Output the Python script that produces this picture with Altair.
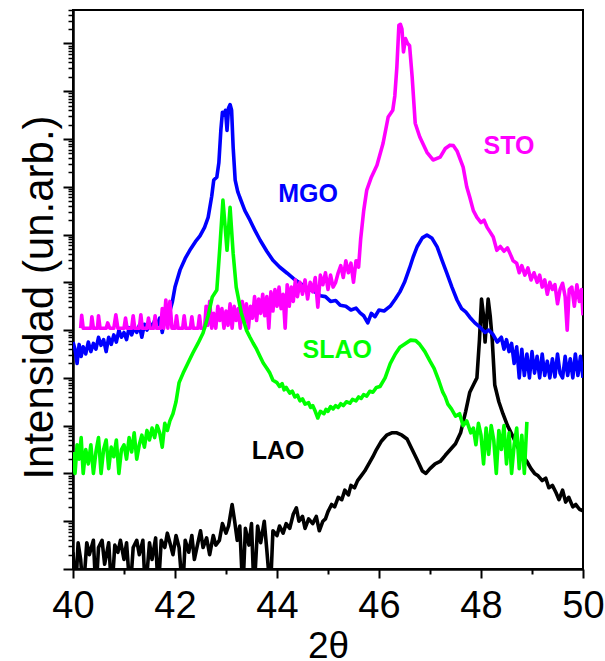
import altair as alt
import pandas as pd

# ---- data: 2-theta (deg) and log10 of intensity (arb. units) ----
lao_x = [40.00, 40.05, 40.10, 40.15, 40.20, 40.27, 40.32, 40.40, 40.45, 40.50, 40.57, 40.62, 40.70, 40.76,
         40.82, 40.88, 40.93, 41.00, 41.05, 41.12, 41.18, 41.25, 41.30, 41.37, 41.42, 41.50, 41.55, 41.62,
         41.67, 41.73, 41.80, 41.85, 41.90, 41.96, 42.02, 42.08, 42.15, 42.20, 42.27, 42.33, 42.38, 42.45,
         42.50, 42.55, 42.62, 42.68, 42.75, 42.80, 42.87, 42.93, 43.00, 43.05, 43.12, 43.17, 43.22, 43.27,
         43.33, 43.38, 43.45, 43.50, 43.55, 43.62, 43.68, 43.75, 43.80, 43.87, 43.92, 44.00, 44.05, 44.12,
         44.18, 44.25, 44.32, 44.38, 44.43, 44.50, 44.55, 44.62, 44.70, 44.77, 44.83, 44.90, 44.95, 45.00,
         45.07, 45.13, 45.20, 45.27, 45.33, 45.40, 45.45, 45.52, 45.58, 45.65, 45.72, 45.80, 45.88, 45.95,
         46.05, 46.15, 46.25, 46.35, 46.45, 46.55, 46.65, 46.75, 46.85, 46.92, 47.00, 47.10, 47.20, 47.30,
         47.40, 47.50, 47.60, 47.70, 47.78, 47.85, 47.92, 47.97, 48.01, 48.05, 48.08, 48.11, 48.14, 48.18,
         48.22, 48.27, 48.35, 48.43, 48.52, 48.63, 48.72, 48.80, 48.90, 48.98, 49.05, 49.12, 49.20, 49.27,
         49.33, 49.40, 49.47, 49.53, 49.60, 49.66, 49.72, 49.80, 49.86, 49.93, 50.00]
lao_log = [0.35, -0.5, 0.55, 0.2, -0.5, 0.55, 0.3, 0.6, -0.5, 0.45, 0.6, 0.1, 0.55, -0.5,
           0.5, 0.35, 0.6, 0.2, 0.55, -0.5, 0.45, 0.6, 0.3, 0.6, -0.5, 0.55, 0.2, 0.65,
           -0.5, 0.6, 0.45, 0.75, 0.55, 0.3, 0.7, 0.45, -0.5, 0.6, 0.35, 0.7, 0.2, 0.55,
           0.8, 0.45, 0.65, 0.3, 0.7, 0.5, 0.6, 0.95, 0.75, 0.9, 1.35, 1.0, 0.6, 0.9,
           -0.5, 0.85, 0.5, 0.95, -0.5, 0.9, 0.55, 1.0, 0.4, -0.5, 0.8, 0.7, 0.9, 0.75,
           0.95, 0.85, 1.15, 1.28, 1.0, 1.1, 0.85, 1.05, 0.95, 1.1, 0.8, 1.0, 1.05, 1.2,
           1.35, 1.3, 1.5, 1.45, 1.65, 1.55, 1.75, 1.7, 1.85, 1.95, 2.05, 2.2, 2.35, 2.5,
           2.68, 2.8, 2.85, 2.85, 2.8, 2.72, 2.5, 2.28, 2.05, 2.0, 2.1, 2.2, 2.25, 2.38,
           2.5, 2.62, 2.85, 3.3, 3.7, 3.85, 4.0, 4.8, 5.65, 5.3, 4.75, 5.2, 5.65, 5.3,
           4.8, 3.85, 3.5, 3.25, 3.0, 2.76, 2.55, 2.4, 2.25, 2.1, 2.0, 1.95, 1.85, 1.9,
           1.7, 1.75, 1.6, 1.45, 1.65, 1.4, 1.5, 1.3, 1.35, 1.25, 1.22]

slao_x = [40.00, 40.04, 40.08, 40.12, 40.16, 40.20, 40.25, 40.30, 40.35, 40.40, 40.45, 40.50, 40.55, 40.60,
          40.65, 40.70, 40.75, 40.80, 40.85, 40.90, 40.95, 41.00, 41.05, 41.10, 41.15, 41.20, 41.25, 41.30,
          41.35, 41.40, 41.45, 41.50, 41.55, 41.60, 41.65, 41.70, 41.75, 41.80, 41.85, 41.90, 41.96, 42.02,
          42.08, 42.16, 42.25, 42.35, 42.45, 42.55, 42.65, 42.73, 42.82, 42.88, 42.94, 42.98, 43.02, 43.08,
          43.14, 43.20, 43.30, 43.40, 43.47, 43.53, 43.60, 43.67, 43.73, 43.80, 43.86, 43.92, 44.00, 44.05,
          44.10, 44.14, 44.18, 44.25, 44.30, 44.35, 44.40, 44.45, 44.50, 44.55, 44.62, 44.66, 44.70, 44.75,
          44.80, 44.85, 44.92, 44.96, 45.00, 45.05, 45.10, 45.15, 45.20, 45.25, 45.30, 45.36, 45.43, 45.48,
          45.55, 45.60, 45.65, 45.70, 45.76, 45.82, 45.88, 45.95, 46.02, 46.12, 46.22, 46.32, 46.41, 46.52,
          46.62, 46.72, 46.80, 46.90, 47.00, 47.08, 47.17, 47.25, 47.30, 47.35, 47.42, 47.50, 47.58, 47.65,
          47.72, 47.80, 47.85, 47.90, 47.95, 48.00, 48.05, 48.10, 48.15, 48.20, 48.25, 48.30, 48.35, 48.40,
          48.45, 48.50, 48.55, 48.60, 48.65, 48.70, 48.75, 48.80, 48.85, 48.90]
slao_log = [2.45, 2.0, 2.6, 2.3, 2.75, 2.0, 2.5, 2.2, 2.6, 2.0, 2.45, 2.75, 2.0, 2.5,
            2.7, 2.1, 2.55, 2.35, 2.7, 2.0, 2.5, 2.6, 2.3, 2.75, 2.45, 2.85, 2.3, 2.6,
            2.8, 2.55, 2.9, 2.7, 2.95, 2.75, 3.0, 2.85, 2.55, 3.05, 2.9, 3.1, 3.25, 3.5,
            3.9, 4.1, 4.3, 4.52, 4.72, 4.94, 5.3, 5.69, 5.84, 6.74, 7.72, 7.2, 6.67, 7.57,
            6.61, 5.9, 5.36, 5.0, 4.85, 4.73, 4.6, 4.44, 4.31, 4.2, 4.1, 3.95, 3.9, 3.82,
            3.88, 3.75, 3.8, 3.68, 3.72, 3.6, 3.64, 3.52, 3.56, 3.45, 3.48, 3.38, 3.42, 3.3,
            3.16, 3.3, 3.25, 3.34, 3.3, 3.4, 3.35, 3.42, 3.38, 3.46, 3.42, 3.5, 3.47, 3.55,
            3.52, 3.6, 3.57, 3.65, 3.62, 3.72, 3.7, 3.8, 3.82, 4.0, 4.3, 4.5, 4.64, 4.72,
            4.79, 4.78, 4.7, 4.55, 4.35, 4.2, 3.95, 3.7, 3.6, 3.45, 3.35, 3.2, 3.25, 3.0,
            3.1, 2.85, 2.95, 2.6, 3.05, 2.8, 2.2, 2.95, 2.4, 3.0, 2.7, 2.0, 2.9, 2.5,
            3.0, 2.2, 2.85, 2.0, 2.6, 2.95, 2.1, 2.8, 2.0, 3.08]

mgo_x = [40.00, 40.04, 40.08, 40.12, 40.16, 40.20, 40.25, 40.30, 40.35, 40.40, 40.45, 40.50, 40.55, 40.60,
         40.65, 40.70, 40.75, 40.80, 40.85, 40.90, 40.95, 41.00, 41.05, 41.10, 41.15, 41.20, 41.25, 41.30,
         41.35, 41.40, 41.45, 41.50, 41.55, 41.60, 41.65, 41.70, 41.75, 41.80, 41.85, 41.90, 41.95, 42.00,
         42.10, 42.20, 42.29, 42.40, 42.49, 42.58, 42.65, 42.72, 42.76, 42.82, 42.86, 42.90, 42.93, 42.96,
         42.99, 43.02, 43.05, 43.08, 43.11, 43.14, 43.18, 43.23, 43.27, 43.37, 43.47, 43.57, 43.67, 43.80,
         43.92, 44.05, 44.20, 44.32, 44.45, 44.60, 44.70, 44.78, 44.85, 44.95, 45.05, 45.15, 45.24, 45.35,
         45.45, 45.55, 45.63, 45.70, 45.78, 45.85, 45.92, 46.00, 46.10, 46.22, 46.32, 46.41, 46.50, 46.60,
         46.67, 46.75, 46.85, 46.94, 47.04, 47.14, 47.24, 47.33, 47.43, 47.53, 47.62, 47.70, 47.78, 47.88,
         47.98, 48.08, 48.15, 48.24, 48.32, 48.40, 48.45, 48.50, 48.55, 48.60, 48.65, 48.70, 48.75, 48.80,
         48.85, 48.90, 48.95, 49.00, 49.05, 49.10, 49.15, 49.20, 49.25, 49.30, 49.35, 49.40, 49.45, 49.50,
         49.55, 49.60, 49.65, 49.70, 49.75, 49.80, 49.85, 49.90, 49.95, 50.00]
mgo_log = [4.75, 4.6, 4.3, 4.7, 4.45, 4.65, 4.5, 4.75, 4.55, 4.72, 4.6, 4.85, 4.68, 4.8,
           4.55, 4.85, 4.7, 4.9, 4.75, 5.0, 4.85, 4.95, 4.8, 5.05, 4.9, 5.05, 4.95, 5.1,
           4.85, 5.12, 5.0, 5.15, 5.05, 5.2, 5.1, 5.25, 4.95, 5.25, 5.3, 5.4, 5.6, 5.9,
           6.26, 6.5, 6.67, 6.85, 6.97, 7.15, 7.36, 7.8, 8.14, 8.2, 8.5, 9.2, 9.56, 9.5,
           9.6, 9.18, 9.65, 9.72, 9.6, 8.83, 8.14, 7.9, 7.78, 7.5, 7.3, 7.08, 6.88, 6.65,
           6.46, 6.32, 6.19, 6.08, 5.98, 5.88, 5.82, 5.78, 5.72, 5.7, 5.6, 5.62, 5.52, 5.5,
           5.42, 5.46, 5.36, 5.3, 5.15, 5.35, 5.28, 5.42, 5.4, 5.5, 5.65, 5.8, 6.0, 6.3,
           6.53, 6.75, 6.93, 6.99, 6.92, 6.74, 6.45, 6.19, 5.9, 5.63, 5.45, 5.38, 5.27, 5.15,
           5.06, 4.95, 5.0, 4.9, 4.75, 4.85, 4.6, 4.8, 4.55, 4.72, 4.3, 4.65, 4.0, 4.6,
           4.05, 4.5, 4.0, 4.55, 4.1, 4.45, 4.0, 4.5, 4.05, 4.35, 4.0, 4.4, 4.02, 4.5,
           4.1, 4.0, 4.45, 4.05, 4.4, 4.0, 4.5, 4.05, 4.45, 4.0]

sto_x = [40.15, 40.17, 40.20, 40.35, 40.37, 40.40, 40.48, 40.50, 40.53, 40.65, 40.68, 40.72, 40.80, 40.84,
         40.88, 41.00, 41.03, 41.06, 41.15, 41.18, 41.21, 41.30, 41.33, 41.36, 41.45, 41.48, 41.51, 41.58,
         41.61, 41.64, 41.72, 41.75, 41.78, 41.82, 41.86, 41.90, 41.94, 42.00, 42.03, 42.06, 42.15, 42.18,
         42.21, 42.30, 42.33, 42.36, 42.45, 42.48, 42.51, 42.58, 42.61, 42.64, 42.68, 42.72, 42.76, 42.80,
         42.84, 42.88, 42.92, 42.96, 43.00, 43.04, 43.08, 43.12, 43.16, 43.20, 43.24, 43.28, 43.32, 43.36,
         43.40, 43.44, 43.48, 43.52, 43.56, 43.60, 43.64, 43.68, 43.72, 43.76, 43.80, 43.84, 43.88, 43.92,
         43.96, 44.00, 44.04, 44.08, 44.12, 44.16, 44.20, 44.24, 44.28, 44.32, 44.36, 44.40, 44.45, 44.50,
         44.55, 44.60, 44.65, 44.70, 44.75, 44.80, 44.85, 44.90, 44.95, 45.00, 45.05, 45.10, 45.15, 45.20,
         45.25, 45.30, 45.35, 45.40, 45.45, 45.50, 45.55, 45.60, 45.64, 45.70, 45.76, 45.85, 45.96, 46.08,
         46.18, 46.27, 46.31, 46.35, 46.39, 46.42, 46.45, 46.48, 46.52, 46.56, 46.60, 46.65, 46.71, 46.80,
         46.94, 47.06, 47.20, 47.30, 47.39, 47.46, 47.53, 47.65, 47.72, 47.78, 47.85, 47.92, 48.00, 48.06,
         48.12, 48.18, 48.24, 48.31, 48.38, 48.45, 48.52, 48.57, 48.63, 48.70, 48.75, 48.80, 48.86, 48.92,
         48.98, 49.04, 49.10, 49.15, 49.20, 49.25, 49.30, 49.35, 49.40, 49.45, 49.50, 49.55, 49.60, 49.65,
         49.69, 49.73, 49.78, 49.83, 49.88, 49.93, 49.97, 50.00]
sto_log = [5.04, 5.31, 5.04, 5.04, 5.28, 5.04, 5.04, 5.3, 5.04, 5.04, 5.15, 5.04, 5.04, 5.32,
           5.04, 5.04, 5.25, 5.04, 5.04, 5.3, 5.04, 5.04, 5.32, 5.04, 5.04, 5.25, 5.04, 5.04,
           5.3, 5.04, 5.04, 5.45, 5.04, 5.63, 5.04, 5.6, 5.04, 5.04, 5.3, 5.04, 5.04, 5.3,
           5.04, 5.04, 5.28, 5.04, 5.04, 5.3, 5.04, 5.04, 5.5, 5.1, 5.6, 5.04, 5.35, 5.04,
           5.5, 5.2, 5.45, 5.04, 5.4, 5.1, 5.55, 5.04, 5.5, 5.2, 5.45, 5.04, 5.6, 5.15,
           5.55, 5.04, 5.5, 5.25, 5.7, 5.2, 5.65, 5.35, 5.75, 5.3, 5.7, 5.04, 5.8, 5.4,
           5.85, 5.5, 5.9, 5.45, 5.75, 5.04, 5.95, 5.5, 5.9, 5.6, 6.05, 5.7, 6.0, 5.75,
           6.05, 5.65, 6.0, 5.8, 6.1, 5.48, 6.15, 5.95, 6.2, 5.85, 6.15, 5.9, 6.0, 6.2,
           6.35, 6.1, 6.45, 6.2, 6.4, 6.0, 6.45, 6.32, 6.9, 7.5, 7.93, 8.2, 8.45, 8.91,
           9.46, 9.6, 9.9, 10.5, 11.38, 11.4, 11.3, 10.82, 11.1, 11.0, 10.95, 10.3, 9.33, 9.04,
           8.72, 8.56, 8.62, 8.8, 8.87, 8.86, 8.75, 8.41, 8.0, 7.78, 7.5, 7.36, 7.25, 7.3,
           7.15, 7.05, 6.95, 6.67, 6.75, 6.65, 6.72, 6.6, 6.45, 6.4, 6.2, 6.35, 6.15, 6.3,
           6.05, 6.2, 6.0, 6.15, 5.9, 6.05, 5.75, 6.0, 5.85, 5.95, 5.55, 5.85, 5.98, 5.7,
           5.0, 5.85, 5.9, 5.5, 5.95, 5.6, 5.85, 5.31]

label_names = ["MGO", "STO", "SLAO", "LAO"]
label_x = [44.61, 48.55, 45.18, 44.02]
label_log = [7.85, 8.85, 4.58, 2.47]
label_colors = ["#0000ff", "#ff00ff", "#00ff00", "#000000"]

x_major = [40, 42, 44, 46, 48, 50]
x_minor = [41, 43, 45, 47, 49]
y_major = [10.0 ** n for n in range(0, 12)]
y_minor = [k * 10.0 ** n for n in range(0, 12) for k in range(2, 10) if k * 10.0 ** n <= 5e11]


def series(xs, logs):
    return pd.DataFrame({"two_theta": xs, "intensity": [10.0 ** v for v in logs]})


FONT = "Liberation Sans"
x_scale = alt.Scale(domain=[40, 50], nice=False, zero=False)
y_scale = alt.Scale(type="log", domain=[1, 5e11], nice=False)

x_axis = alt.Axis(values=x_major, title="2θ", titleFont=FONT, titleFontSize=37, titleFontWeight="normal",
                  titleColor="black", titleX=255, titleY=88, titleBaseline="alphabetic",
                  labelFont=FONT, labelFontSize=38, labelColor="black", labelPadding=9,
                  labelFlush=False, labelOverlap=False,
                  tickSize=9, tickWidth=2, tickColor="black", domainColor="black", domainWidth=2.5,
                  grid=False, format="d")
y_axis = alt.Axis(values=y_major, labels=False, title="Intensidad (un.arb.)", titleFont=FONT,
                  titleFontSize=42, titleFontWeight="normal", titleColor="black",
                  titleX=-21, titleY=287, titleBaseline="alphabetic", titleAngle=-90,
                  tickSize=10, tickWidth=2, tickColor="black", domainColor="black", domainWidth=2.5,
                  grid=False)


def line(xs, logs, color):
    return alt.Chart(series(xs, logs)).mark_line(strokeWidth=3.6, clip=True, color=color,
                                                 strokeJoin="round").encode(
        x=alt.X("two_theta:Q", scale=x_scale, axis=x_axis),
        y=alt.Y("intensity:Q", scale=y_scale, axis=y_axis),
    )


labels_df = pd.DataFrame({"name": label_names, "two_theta": label_x,
                          "intensity": [10.0 ** v for v in label_log], "color": label_colors})

texts = alt.Chart(labels_df).mark_text(font=FONT, fontSize=25, fontWeight="bold",
                                       align="center", baseline="middle").encode(
    x=alt.X("two_theta:Q", scale=x_scale, axis=x_axis),
    y=alt.Y("intensity:Q", scale=y_scale, axis=y_axis),
    text="name:N",
    color=alt.Color("color:N", scale=None),
)

main = alt.layer(
    line(lao_x, lao_log, "#000000"),
    line(mgo_x, mgo_log, "#0000ff"),
    line(sto_x, sto_log, "#ff00ff"),
    line(slao_x, slao_log, "#00ff00"),
    texts,
)

minor = alt.Chart(labels_df).mark_point(opacity=0).encode(
    x=alt.X("two_theta:Q", scale=x_scale,
            axis=alt.Axis(values=x_minor, labels=False, title=None, domain=False, grid=False,
                          tickSize=5, tickWidth=2, tickColor="black", orient="bottom")),
    y=alt.Y("intensity:Q", scale=y_scale,
            axis=alt.Axis(values=y_minor, labels=False, title=None, domain=False, grid=False,
                          tickSize=5, tickWidth=1.5, tickColor="black", orient="left")),
)

chart = alt.layer(main, minor).resolve_axis(x="independent", y="independent").properties(
    width=510, height=559,
    autosize=alt.AutoSizeParams(type="none"),
    padding={"left": 73, "top": 10, "right": 22, "bottom": 92},
    background="white",
).configure_view(stroke="black", strokeWidth=2)

chart.save("out.html", embed_options={"renderer": "svg", "actions": False})
